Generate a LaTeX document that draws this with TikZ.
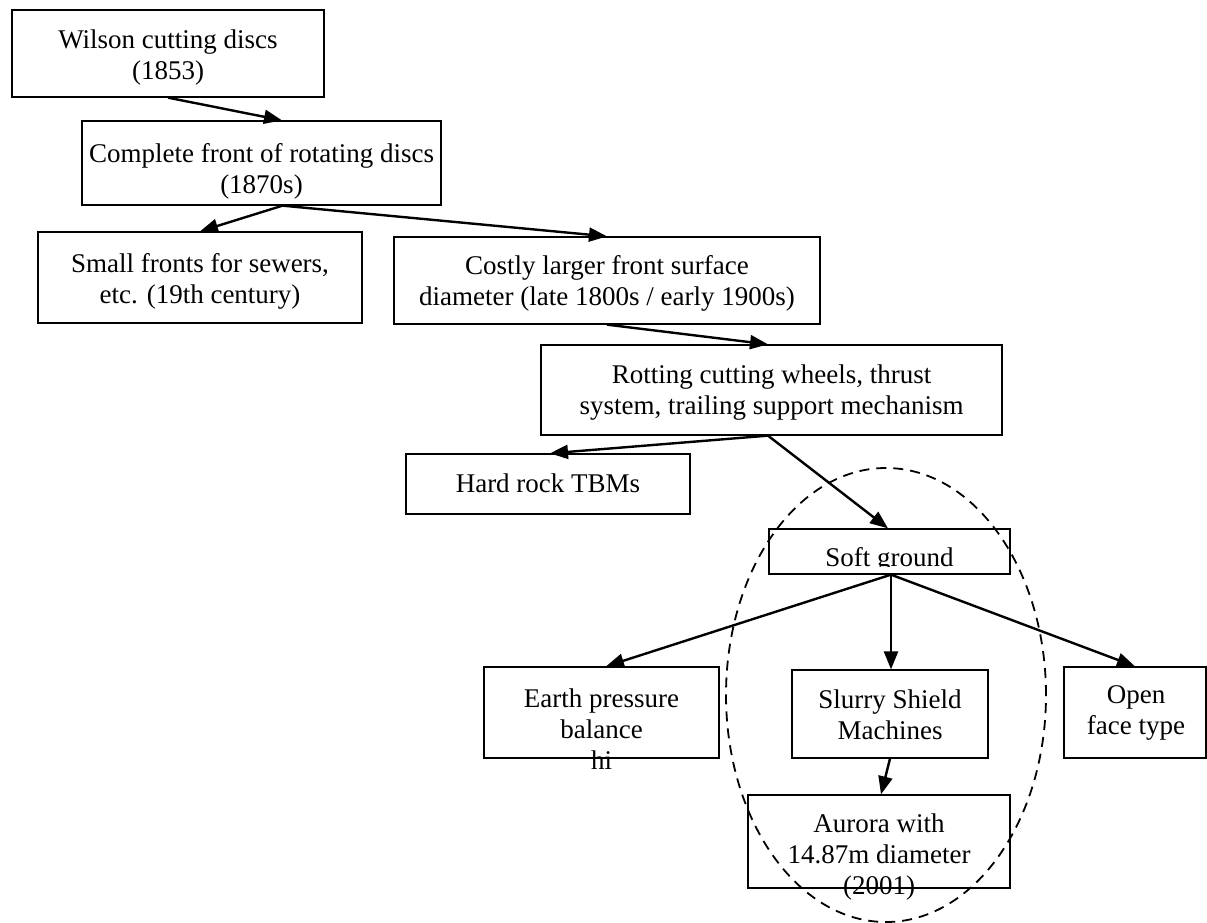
\documentclass[tikz,border=0pt]{standalone}
\usepackage{fontspec}
\setmainfont{Liberation Serif}
\usetikzlibrary{arrows.meta,shapes.geometric}
\tikzset{
  box/.style={draw, line width=1.3pt, inner sep=0pt},
  lbl/.style={align=center, inner sep=0pt, font=\fontsize{27}{31}\selectfont},
  arr/.style={line width=2.4pt, -{Triangle[length=18pt,width=14pt]}},
  grp/.style={draw, dash pattern=on 10pt off 7pt, line width=1.8pt, ellipse, inner sep=0pt}
}
\begin{document}
\begin{tikzpicture}[x=1pt,y=-1pt]
\useasboundingbox (0,0) rectangle (1207,923);
% boxes
\node[box, minimum width=312pt, minimum height=87pt] (wilson) at (168,53.5) {};
\node[box, minimum width=359pt, minimum height=84pt] (complete) at (261.5,163) {};
\node[box, minimum width=324pt, minimum height=91pt] (small) at (200,277.5) {};
\node[box, minimum width=426pt, minimum height=87pt] (costly) at (607,280.5) {};
\node[box, minimum width=461pt, minimum height=90pt] (rotting) at (771.5,390) {};
\node[box, minimum width=284pt, minimum height=60pt] (hard) at (548,484) {};
\node[box, minimum width=241pt, minimum height=45pt] (soft) at (889.5,551.5) {};
\node[box, minimum width=235pt, minimum height=91pt] (earth) at (601.5,712.5) {};
\node[box, minimum width=196pt, minimum height=88pt] (slurry) at (890,714) {};
\node[box, minimum width=142pt, minimum height=91pt] (open) at (1135,712.5) {};
\node[box, minimum width=262pt, minimum height=93pt] (aurora) at (879,841.5) {};
% texts
\node[lbl] (wilson-t) at (168,58) {Wilson cutting discs\\(1853)};
\node[lbl] (complete-t) at (261.5,171) {Complete front of rotating discs\\(1870s)};
\node[lbl] (small-t) at (200,281) {Small fronts for sewers,\\etc. (19th century)};
\node[lbl] (costly-t) at (607,283) {Costly larger front surface\\diameter (late 1800s / early 1900s)};
\node[lbl] (rotting-t) at (771.5,393) {Rotting cutting wheels, thrust\\system, trailing support mechanism};
\node[lbl] (hard-t) at (548,483) {Hard rock TBMs};
\begin{scope}
\clip (soft.north west) rectangle (1010,566);
\node[lbl, anchor=base] (soft-t) at (889.5,566) {Soft ground};
\end{scope}
\node[lbl] (earth-t) at (601.5,729) {Earth pressure\\balance\\hi};
\node[lbl] (slurry-t) at (890,715) {Slurry Shield\\Machines};
\node[lbl] (open-t) at (1136,713) {Open\\face type};
\node[lbl] (aurora-t) at (879,857) {Aurora with\\14.87m diameter\\(2001)};
% connectors
\draw[arr] (wilson.south) -- ([xshift=20.5pt]complete.north);
\draw[arr] ([xshift=21pt]complete.south) -- (small.north);
\draw[arr] ([xshift=21pt]complete.south) -- (costly.north);
\draw[arr] (costly.south) -- ([xshift=-3.5pt]rotting.north);
\draw[arr] ([xshift=-3.5pt]rotting.south) -- ([xshift=2pt]hard.north);
\draw[arr] ([xshift=-3.5pt]rotting.south) -- ([xshift=-1.5pt]soft.north);
\draw[arr] ([xshift=1.5pt]soft.south) -- ([xshift=4.5pt]earth.north);
\draw[arr] ([xshift=1.5pt]soft.south) -- ([xshift=1pt]slurry.north);
\draw[arr] ([xshift=1.5pt]soft.south) -- (open.north);
\draw[arr] (slurry.south) -- ([xshift=2pt]aurora.north);
% dashed group
\node[grp, minimum width=320pt, minimum height=454pt] (group) at (886,695) {};
\end{tikzpicture}
\end{document}
